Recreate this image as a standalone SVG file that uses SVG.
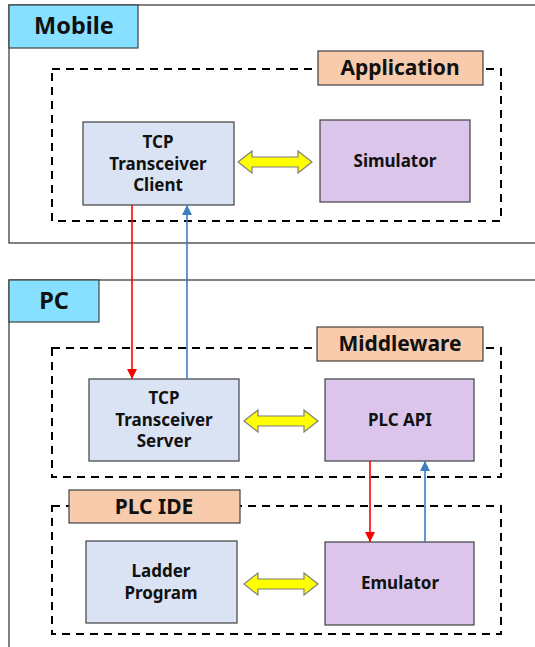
<svg xmlns="http://www.w3.org/2000/svg" width="535" height="647" viewBox="0 0 535 647">
<style>
.frame{fill:#fff;stroke:#404040;stroke-width:1.3}
.plat{fill:#87e0ff;stroke:#404040;stroke-width:1.2}
.grp{fill:#f8cbad;stroke:#404040;stroke-width:1.2}
.dash{fill:none;stroke:#000;stroke-width:2;stroke-dasharray:8,6}
.blue{fill:#dae3f3;stroke:#404040;stroke-width:1.2}
.purple{fill:#dcc5ea;stroke:#404040;stroke-width:1.2}
.dbl{fill:#ffff00;stroke:#7f7f7f;stroke-width:1.2;stroke-linejoin:miter}
text{font-family:"Noto Sans","Open Sans","DejaVu Sans",sans-serif;font-weight:bold;fill:#111;text-anchor:middle}
.big{font-size:23.5px}
.mid{font-size:21px}
.node{font-size:17px}
.red{stroke:#ff0000;stroke-width:1.6;fill:none}
.bl{stroke:#3a7fc1;stroke-width:1.6;fill:none}
</style>
<defs>
<marker id="ahR" viewBox="0 0 10 10" refX="10" refY="5" markerWidth="10" markerHeight="10" markerUnits="userSpaceOnUse" orient="auto"><path d="M0,0 L10,5 L0,10 z" fill="#ff0000"/></marker>
<marker id="ahB" viewBox="0 0 10 10" refX="10" refY="5" markerWidth="10" markerHeight="10" markerUnits="userSpaceOnUse" orient="auto"><path d="M0,0 L10,5 L0,10 z" fill="#3a7fc1"/></marker>
<path id="dblArrow" d="M0,0 L14,-11 L14,-5 L60,-5 L60,-11 L74,0 L60,11 L60,5 L14,5 L14,11 z"/>
</defs>

<g id="mobile">
<rect class="frame" x="9" y="5" width="540" height="238"/>
<rect class="plat" x="9" y="5" width="129" height="43"/>
<text class="big" x="74" y="34">Mobile</text>
</g>
<g id="application">
<rect class="dash" x="52" y="69" width="449" height="152"/>
<rect class="grp" x="318" y="51" width="165" height="34"/>
<text class="mid" x="400" y="75">Application</text>
</g>
<g id="tcp-client">
<rect class="blue" x="83" y="122" width="151" height="83"/>
<text class="node" x="158" y="148">TCP</text>
<text class="node" x="158" y="170">Transceiver</text>
<text class="node" x="158" y="191">Client</text>
</g>
<g id="simulator">
<rect class="purple" x="320" y="120" width="150" height="82"/>
<text class="node" x="395" y="167">Simulator</text>
</g>

<g id="pc">
<rect class="frame" x="9" y="280" width="540" height="380"/>
<rect class="plat" x="9" y="280" width="90" height="42"/>
<text class="big" x="54" y="309">PC</text>
</g>
<g id="middleware">
<rect class="dash" x="52" y="348" width="449" height="129"/>
<rect class="grp" x="317" y="327" width="166" height="34"/>
<text class="mid" x="400" y="351">Middleware</text>
</g>
<g id="tcp-server">
<rect class="blue" x="89" y="379" width="150" height="82"/>
<text class="node" x="164" y="404">TCP</text>
<text class="node" x="164" y="426">Transceiver</text>
<text class="node" x="164" y="447">Server</text>
</g>
<g id="plc-api">
<rect class="purple" x="325" y="379" width="149" height="82"/>
<text class="node" x="400" y="426">PLC API</text>
</g>
<g id="plc-ide">
<rect class="dash" x="52" y="506" width="449" height="128"/>
<rect class="grp" x="69" y="490" width="171" height="33"/>
<text class="mid" x="154" y="514">PLC IDE</text>
</g>
<g id="ladder">
<rect class="blue" x="86" y="541" width="151" height="82"/>
<text class="node" x="161" y="577">Ladder</text>
<text class="node" x="161" y="599">Program</text>
</g>
<g id="emulator">
<rect class="purple" x="325" y="542" width="149" height="83"/>
<text class="node" x="400" y="589">Emulator</text>
</g>

<g id="connectors">
<use href="#dblArrow" class="dbl" transform="translate(238,162)"/>
<use href="#dblArrow" class="dbl" transform="translate(244,421)"/>
<use href="#dblArrow" class="dbl" transform="translate(244,584)"/>
<line class="red" x1="132" y1="205" x2="132" y2="379" marker-end="url(#ahR)"/>
<line class="bl" x1="187" y1="379" x2="187" y2="205" marker-end="url(#ahB)"/>
<line class="red" x1="370" y1="461" x2="370" y2="542" marker-end="url(#ahR)"/>
<line class="bl" x1="425" y1="542" x2="425" y2="461" marker-end="url(#ahB)"/>
</g>
</svg>
